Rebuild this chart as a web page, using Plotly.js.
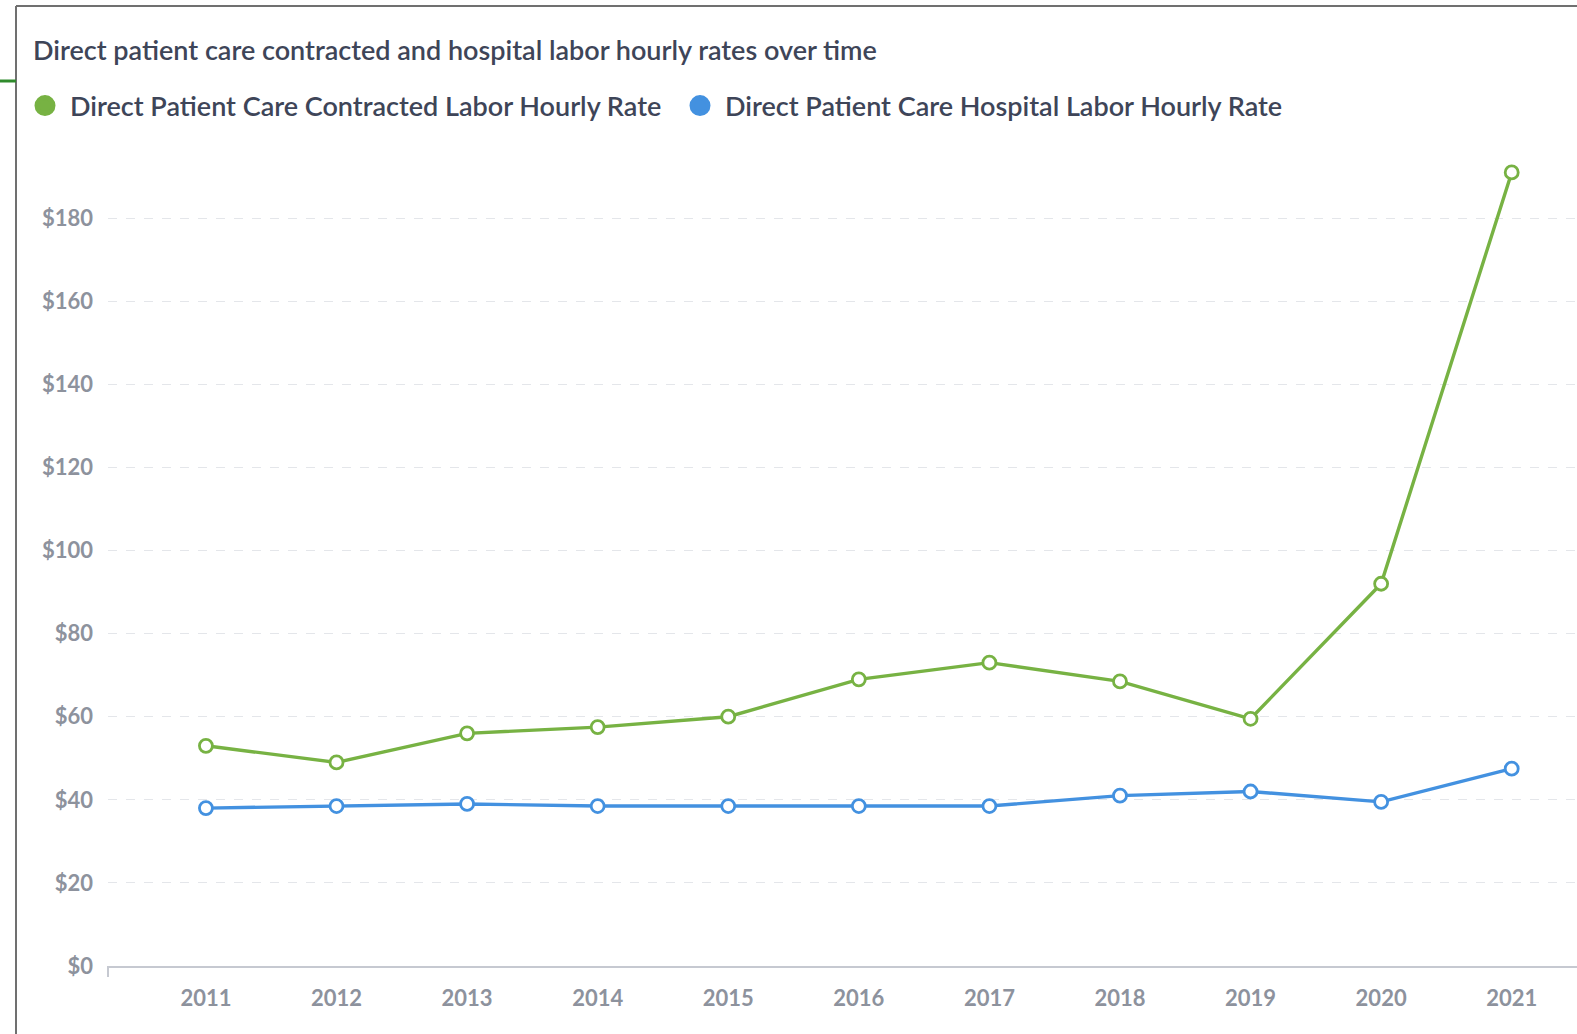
<!DOCTYPE html>
<html>
<head>
<meta charset="utf-8">
<script src="https://cdn.plot.ly/plotly-3.0.1.min.js"></script>
<style>
  html, body { margin: 0; padding: 0; background: #ffffff; }
  #chart { width: 1577px; height: 1034px; }
</style>
</head>
<body>
<div id="chart"></div>
<script>
// Hourly rates, direct patient care, 2011–2021
const years = [2011, 2012, 2013, 2014, 2015, 2016, 2017, 2018, 2019, 2020, 2021];
const contractedRate = [53, 49, 56, 57.5, 60, 69, 73, 68.5, 59.5, 92, 191];
const hospitalRate = [38, 38.5, 39, 38.5, 38.5, 38.5, 38.5, 41, 42, 39.5, 47.5];
const yTicks = [0, 20, 40, 60, 80, 100, 120, 140, 160, 180];
const yTickLabels = yTicks.map(v => '$' + v);

const seriesNames = [
  'Direct Patient Care Contracted Labor Hourly Rate',
  'Direct Patient Care Hospital Labor Hourly Rate'
];
const titleText = 'Direct patient care contracted and hospital labor hourly rates over time';

const GREEN = '#77b243';
const BLUE = '#4391e0';
const TEXT = '#3e4558';

const W = 1577, H = 1034;
const M = { l: 108, r: 0, t: 135, b: 68 };
const plotW = W - M.l - M.r;
const plotH = H - M.t - M.b;

// convert page pixels to paper coordinates
const px = x => (x - M.l) / plotW;
const py = y => (H - M.b - y) / plotH;

function lineTrace(y, color) {
  return {
    x: years, y: y, type: 'scatter', mode: 'lines+markers',
    showlegend: false, hoverinfo: 'x+y',
    line: { color: color, width: 3.4 },
    marker: { symbol: 'circle', size: 13, color: '#ffffff', line: { width: 2.8, color: color } }
  };
}

// legend-only entries: filled dots
function legendTrace(name, color) {
  return {
    x: [null], y: [null], type: 'scatter', mode: 'markers', name: name,
    marker: { symbol: 'circle', size: 16, color: color, line: { width: 5, color: color } }
  };
}

const data = [
  lineTrace(contractedRate, GREEN),
  lineTrace(hospitalRate, BLUE),
  legendTrace(seriesNames[0], GREEN),
  legendTrace(seriesNames[1], BLUE)
];

const tickFont = { family: 'Lato, "Open Sans", sans-serif', size: 22, color: '#8d929d', weight: 700 };

const layout = {
  width: W, height: H,
  margin: M,
  paper_bgcolor: '#ffffff', plot_bgcolor: '#ffffff',
  title: {
    text: titleText,
    x: 33 / W, xref: 'container', xanchor: 'left',
    y: 1 - 51 / H, yref: 'container', yanchor: 'middle',
    font: { family: 'Lato, "Open Sans", sans-serif', size: 27, color: TEXT, weight: 600 }
  },
  showlegend: true,
  legend: {
    orientation: 'h',
    xref: 'container', yref: 'container',
    x: 20 / W, xanchor: 'left',
    y: 1 - 106 / H, yanchor: 'middle',
    itemwidth: 40,
    entrywidth: 600, entrywidthmode: 'pixels',
    font: { family: 'Lato, "Open Sans", sans-serif', size: 27, color: TEXT, weight: 600 },
    itemclick: false, itemdoubleclick: false,
    bgcolor: 'rgba(0,0,0,0)'
  },
  xaxis: {
    range: [2010.25, 2021.5],
    tickvals: years,
    ticktext: years.map(String),
    ticks: '',
    ticklabelstandoff: 12,
    tickfont: tickFont,
    showgrid: false, zeroline: false,
    showline: true, linecolor: '#c6c9d1', linewidth: 2,
    fixedrange: true
  },
  yaxis: {
    range: [0, 200],
    tickvals: yTicks,
    ticktext: yTickLabels,
    ticks: '',
    ticklabelstandoff: 14,
    tickfont: tickFont,
    showgrid: true, gridcolor: '#e4e6ea', gridwidth: 1, griddash: 'dash',
    zeroline: false, showline: false,
    fixedrange: true
  },
  shapes: [
    // frame: left and top border
    { type: 'line', xref: 'paper', yref: 'paper', x0: px(16), x1: px(16), y0: py(6), y1: py(H + 5),
      line: { color: '#707070', width: 2 } },
    { type: 'line', xref: 'paper', yref: 'paper', x0: px(16), x1: px(W + 5), y0: py(6), y1: py(6),
      line: { color: '#707070', width: 2 } },
    // accent mark at the left edge
    { type: 'line', xref: 'paper', yref: 'paper', x0: px(0), x1: px(16), y0: py(81), y1: py(81),
      line: { color: '#2f8a2c', width: 3 } },
    // start tick of the x axis
    { type: 'line', xref: 'paper', yref: 'paper', x0: px(108), x1: px(108), y0: 0, y1: py(H - M.b + 11),
      line: { color: '#c6c9d1', width: 2 } }
  ]
};

Plotly.newPlot('chart', data, layout, { displayModeBar: false });
</script>
</body>
</html>
